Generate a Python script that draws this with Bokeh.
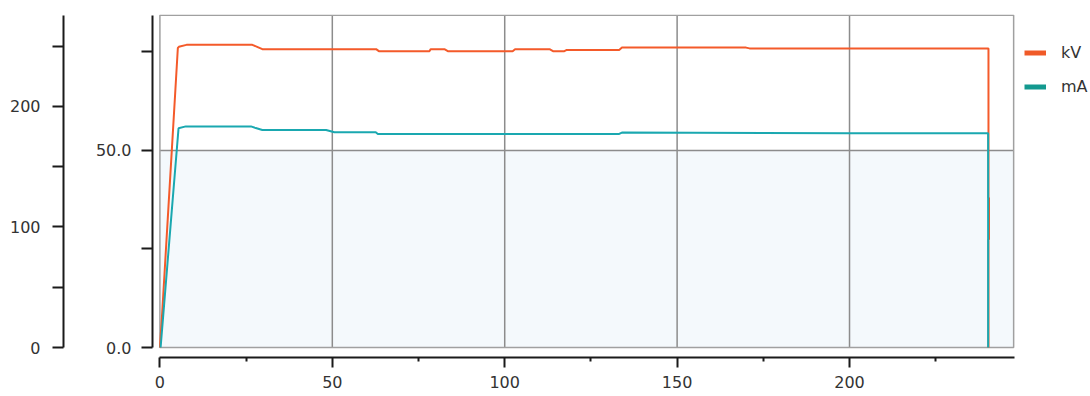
from bokeh.plotting import figure
from bokeh.models import Range1d, LinearAxis, FixedTicker, Legend, LegendItem, BoxAnnotation
from bokeh.embed import file_html
from bokeh.resources import INLINE

# ---- data ----
kv_t = [0, 0.6, 1.5, 2.5, 3.5, 4.5, 5.2, 5.5, 7.7, 26.8, 28.2, 29.7, 62.7, 63.5,
        78.2, 78.5, 82.5, 83.5, 102.3, 103.0, 113.0, 114.0, 117.3, 118.0, 133.2,
        134.0, 170.0, 171.0, 240.3, 240.3, 240.45, 240.45, 240.3, 240.3]
kv_vals = [0, 7.9, 21.2, 36.0, 50.8, 65.6, 76.0, 76.3, 76.8, 76.8, 76.3, 75.7, 75.7, 75.2,
           75.2, 75.7, 75.7, 75.2, 75.2, 75.7, 75.7, 75.2, 75.2, 75.5, 75.5,
           76.1, 76.1, 75.9, 75.9, 38.0, 38.0, 27.4, 27.4, 0]

ma_t = [0.2, 1.2, 2.2, 3.2, 4.2, 5.4, 7.5, 26.4, 27.8, 29.7, 48.2, 50.6, 62.6, 63.2,
        133.2, 134.0, 200.0, 240.2, 240.2]
ma_vals = [0, 35.0, 70.0, 105.0, 140.0, 181.8, 183.4, 183.4, 182.0, 180.4, 180.4, 178.5,
           178.5, 177.1, 177.1, 178.3, 177.7, 177.7, 0]

series_names = ["kV", "mA"]
x_ticks = [0, 50, 100, 150, 200]
x_minor = [25, 75, 125, 175, 225]
x_grid = [50, 100, 150, 200]
inner_ticks = [0, 25, 50, 75]
inner_labels = {0: "0.0", 25: "", 50: "50.0", 75: ""}
inner_grid = [50]
outer_ticks = [0, 50, 100, 150, 200, 250]
outer_labels = {0: "0", 50: "", 100: "100", 150: "", 200: "200", 250: ""}

X_END = 247.6
IN_TOP = 84.3
K = 3.2686  # outer / inner scale ratio
OUT_TOP = IN_TOP * K

KV_COLOR = "#f45a2a"
MA_COLOR = "#1aa8b0"
FONT = "DejaVu Sans"
TXT = "#333333"
AX = "#1a1a1a"

p = figure(width=1089, height=395, output_backend="svg", toolbar_location=None,
           x_range=Range1d(-2.15, 269.6), y_range=Range1d(-2.53, 84.5),
           min_border_left=152, min_border_right=0, min_border_top=14,
           min_border_bottom=38)
p.outline_line_color = None
p.background_fill_color = "white"
p.border_fill_color = "white"
p.xgrid.visible = False
p.ygrid.visible = False
p.extra_y_ranges = {"outer": Range1d(-2.53 * K, 84.5 * K)}

# faint scan tint
p.add_layout(BoxAnnotation(left=0, right=X_END, bottom=0, top=inner_grid[0],
                           fill_color="#f4f9fc", fill_alpha=1, line_color=None,
                           level="underlay"))

# grid lines
p.segment(x0=x_grid, y0=[0] * len(x_grid), x1=x_grid, y1=[IN_TOP] * len(x_grid),
          line_color="#8c8c8c", line_width=1.5)
p.segment(x0=[0] * len(inner_grid), y0=inner_grid, x1=[X_END] * len(inner_grid),
          y1=inner_grid, line_color="#8c8c8c", line_width=1.5)
# plot frame
p.quad(left=[0], right=[X_END], bottom=[0], top=[IN_TOP], fill_color=None,
       line_color="#a0a0a0", line_width=1.5)

p.line(kv_t, kv_vals, line_color=KV_COLOR, line_width=2)
p.line(ma_t, ma_vals, line_color=MA_COLOR, line_width=2, y_range_name="outer")

# axes
def style_axis(ax):
    ax.axis_line_color = AX
    ax.axis_line_width = 2
    ax.major_tick_line_color = AX
    ax.major_tick_line_width = 2
    ax.major_tick_in = 0
    ax.major_tick_out = 11
    ax.major_label_text_font = FONT
    ax.major_label_text_font_size = "16px"
    ax.major_label_text_color = TXT

xa = p.xaxis[0]
style_axis(xa)
xa.ticker = FixedTicker(ticks=x_ticks, minor_ticks=x_minor)
xa.bounds = (0, 247.8)
xa.major_tick_out = 10
xa.minor_tick_in = 0
xa.minor_tick_out = 4
xa.minor_tick_line_color = AX
xa.minor_tick_line_width = 2
xa.major_label_standoff = 8

ya = p.yaxis[0]
style_axis(ya)
ya.ticker = FixedTicker(ticks=inner_ticks)
ya.major_label_overrides = inner_labels
ya.bounds = (0, IN_TOP)
ya.minor_tick_line_color = None
ya.major_label_standoff = 10
ya.axis_label = " "
ya.axis_label_standoff = 6
ya.axis_label_text_font_size = "18px"

outer = LinearAxis(y_range_name="outer", ticker=FixedTicker(ticks=outer_ticks),
                   major_label_overrides=outer_labels, bounds=(0, OUT_TOP))
style_axis(outer)
outer.minor_tick_line_color = None
outer.major_label_standoff = 12
p.add_layout(outer, "left")

# legend (thick swatches), placed in the empty area right of the plot box
r_kv = p.line(x=kv_t[:1], y=kv_vals[:1], line_color="#f05a28", line_width=5)
r_ma = p.line(x=ma_t[:1], y=ma_vals[:1], line_color="#13998f", line_width=5,
              y_range_name="outer")
legend = Legend(items=[LegendItem(label=series_names[0], renderers=[r_kv]),
                       LegendItem(label=series_names[1], renderers=[r_ma])],
                location=(872, 261), orientation="vertical",
                glyph_width=22, glyph_height=19, label_height=19, label_standoff=15,
                spacing=15, padding=0, margin=0,
                border_line_color=None, background_fill_alpha=0,
                label_text_font=FONT, label_text_font_size="16px",
                label_text_color=TXT)
p.add_layout(legend)

open("out.html", "w").write(file_html(p, INLINE))
